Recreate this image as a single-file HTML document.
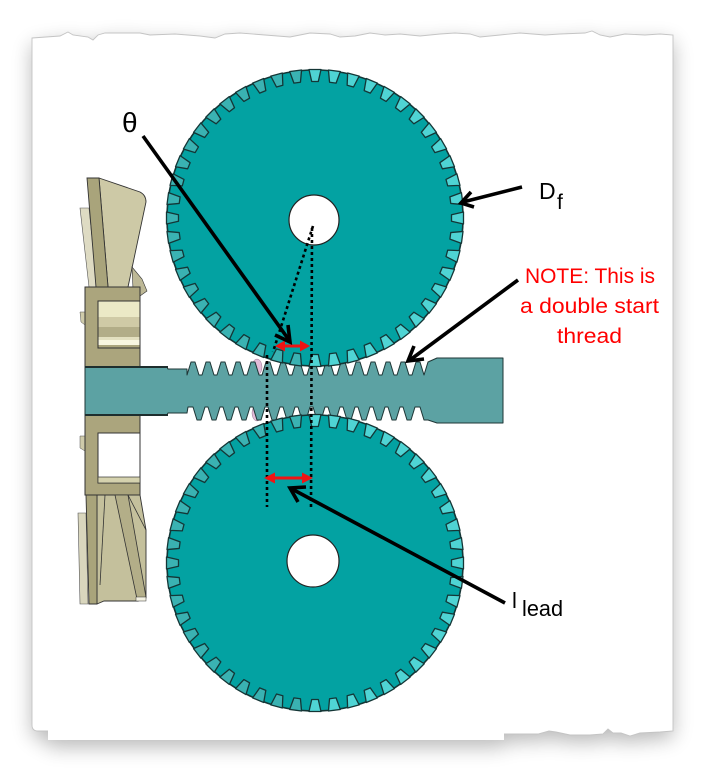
<!DOCTYPE html>
<html><head><meta charset="utf-8">
<style>
html,body{margin:0;padding:0;background:#fff;}
svg{display:block;}
text{font-family:"Liberation Sans",Arial,sans-serif;}
</style></head>
<body>
<svg width="714" height="777" viewBox="0 0 714 777" xmlns="http://www.w3.org/2000/svg">
<defs>
<filter id="sh" x="-15%" y="-15%" width="130%" height="130%">
<feGaussianBlur in="SourceAlpha" stdDeviation="10"/>
<feOffset dx="0" dy="7" result="b"/>
<feComponentTransfer><feFuncA type="linear" slope="0.28"/></feComponentTransfer>
<feMerge><feMergeNode/><feMergeNode in="SourceGraphic"/></feMerge>
</filter>
<polygon id="tt" points="-6,-148.5 6,-148.5 3.3,-136.5 -3.3,-136.5" stroke="#143636" stroke-width="1.3" stroke-linejoin="round"/>
<g id="tr" fill="#4fd4d4">
<use href="#tt" transform="rotate(0)"/><use href="#tt" transform="rotate(7.5)"/><use href="#tt" transform="rotate(15)"/><use href="#tt" transform="rotate(22.5)"/><use href="#tt" transform="rotate(30)"/><use href="#tt" transform="rotate(37.5)"/><use href="#tt" transform="rotate(45)"/><use href="#tt" transform="rotate(52.5)"/><use href="#tt" transform="rotate(60)"/><use href="#tt" transform="rotate(67.5)"/><use href="#tt" transform="rotate(75)"/><use href="#tt" transform="rotate(82.5)"/><use href="#tt" transform="rotate(90)"/><use href="#tt" transform="rotate(97.5)"/><use href="#tt" transform="rotate(105)"/><use href="#tt" transform="rotate(112.5)"/><use href="#tt" transform="rotate(120)"/><use href="#tt" transform="rotate(127.5)"/><use href="#tt" transform="rotate(135)"/><use href="#tt" transform="rotate(142.5)"/><use href="#tt" transform="rotate(150)"/><use href="#tt" transform="rotate(157.5)"/><use href="#tt" transform="rotate(165)"/><use href="#tt" transform="rotate(172.5)"/><use href="#tt" transform="rotate(180)"/>
</g>
<g id="tl" fill="#3ab2b2">
<use href="#tt" transform="rotate(187.5)"/><use href="#tt" transform="rotate(195)"/><use href="#tt" transform="rotate(202.5)"/><use href="#tt" transform="rotate(210)"/><use href="#tt" transform="rotate(217.5)"/><use href="#tt" transform="rotate(225)"/><use href="#tt" transform="rotate(232.5)"/><use href="#tt" transform="rotate(240)"/><use href="#tt" transform="rotate(247.5)"/><use href="#tt" transform="rotate(255)"/><use href="#tt" transform="rotate(262.5)"/><use href="#tt" transform="rotate(270)"/><use href="#tt" transform="rotate(277.5)"/><use href="#tt" transform="rotate(285)"/><use href="#tt" transform="rotate(292.5)"/><use href="#tt" transform="rotate(300)"/><use href="#tt" transform="rotate(307.5)"/><use href="#tt" transform="rotate(315)"/><use href="#tt" transform="rotate(322.5)"/><use href="#tt" transform="rotate(330)"/><use href="#tt" transform="rotate(337.5)"/><use href="#tt" transform="rotate(345)"/><use href="#tt" transform="rotate(352.5)"/>
</g>
</defs>

<!-- paper with shadow -->
<g filter="url(#sh)">
<path d="M32,38 L60,36 L68,32 L73,35 L88,37 L93,40 L98,35 L105,33 L140,33 L150,35 L175,34 L200,36 L215,38 L225,34 L240,33 L265,35 L290,37 L310,33 L330,34 L340,37 L355,36 L370,33 L385,35 L400,34 L420,36 L440,34 L455,33 L470,34 L480,37 L500,35 L520,33 L545,35 L560,34 L585,33 L592,31 L600,35 L610,37 L625,34 L645,35 L660,34 L673,35 L673,731 L660,732 L640,733 L630,736 L621,733 L613,733 L608,729 L603,734 L590,735 L570,735 L556,732 L549,731 L538,734 L520,734 L504,734 L504,740 L48,740 L48,731 L38,731 Q32,731 32,725 Z" fill="#fff"/>
</g>
<path d="M32,38 L60,36 L68,32 L73,35 L88,37 L93,40 L98,35 L105,33 L140,33 L150,35 L175,34 L200,36 L215,38 L225,34 L240,33 L265,35 L290,37 L310,33 L330,34 L340,37 L355,36 L370,33 L385,35 L400,34 L420,36 L440,34 L455,33 L470,34 L480,37 L500,35 L520,33 L545,35 L560,34 L585,33 L592,31 L600,35 L610,37 L625,34 L645,35 L660,34 L673,35 L673,731 L660,732 L640,733 L630,736 L621,733 L613,733 L608,729 L603,734 L590,735 L570,735 L556,732 L549,731 L538,734 L520,734 L504,734 L48,731 L38,731 Q32,731 32,725 Z" fill="#fff" stroke="#c4c4c4" stroke-width="0.9"/>
<rect x="48" y="700" width="456" height="40" fill="#fff"/>

<!-- left assembly: upper blades -->
<polygon points="80,208 89,208 97,287 89,287" fill="#dedbc3" stroke="#555" stroke-width="0.6"/>
<path d="M99,178 L140,192 Q146,195 146,202 L128,287 L108,287 Z" fill="#cdc9a6" stroke="#333" stroke-width="0.9"/>
<polygon points="87,178 99,178 108,287 96,287" fill="#a9a47b" stroke="#333" stroke-width="0.9"/>
<polygon points="132,267 142,279 147,291 140,296 133,289" fill="#bdb896" stroke="#333" stroke-width="0.6"/>
<polygon points="80,312 85,312 85,325 81,322" fill="#cfcbaa" stroke="#555" stroke-width="0.5"/>
<!-- upper block -->
<rect x="85" y="287" width="55" height="80" fill="#aba57d" stroke="#333" stroke-width="1"/>
<rect x="98" y="301" width="42" height="16" fill="#ebe9c6"/>
<rect x="98" y="317" width="42" height="10" fill="#cfcaa6"/>
<rect x="98" y="327" width="42" height="10" fill="#b2ad88"/>
<rect x="98" y="337" width="42" height="3" fill="#e3e0c0"/>
<rect x="98" y="340" width="42" height="5" fill="#f8f6e0"/>
<rect x="98" y="301" width="42" height="47" fill="none" stroke="#333" stroke-width="1"/>
<!-- lower block -->
<polygon points="80,436 85,436 85,451 80,448" fill="#cfcbaa" stroke="#555" stroke-width="0.5"/>
<rect x="85" y="415" width="55" height="80" fill="#aba57d" stroke="#333" stroke-width="1"/>
<rect x="98" y="433" width="42" height="50" fill="#fff" stroke="#333" stroke-width="1"/>
<rect x="98" y="477" width="42" height="6" fill="#d5d2ae" stroke="#333" stroke-width="0.7"/>
<!-- lower blades -->
<polygon points="78,513 86,513 88,604 80,604" fill="#d9d6bd" stroke="#555" stroke-width="0.6"/>
<polygon points="97,495 140,495 146,530 146,598 138,601 104,601 97,604" fill="#c4c09c" stroke="#333" stroke-width="0.9"/>
<polygon points="115,495 128,495 146,597 137,599" fill="#b3ae88" stroke="#333" stroke-width="0.8"/>
<line x1="105" y1="495" x2="100" y2="585" stroke="#333" stroke-width="0.8"/>
<line x1="128" y1="495" x2="146" y2="530" stroke="#333" stroke-width="0.8"/>
<polygon points="86,495 97,495 97,604 89,604" fill="#a9a47b" stroke="#333" stroke-width="0.9"/>
<rect x="136" y="597" width="10" height="4" fill="#f4f2e2" stroke="#333" stroke-width="0.5"/>

<!-- pink bits -->
<ellipse cx="257" cy="367" rx="5" ry="8" fill="#e3bcd9" stroke="#9a7a92" stroke-width="0.5"/>
<ellipse cx="257" cy="413" rx="5" ry="8" fill="#e3bcd9" stroke="#9a7a92" stroke-width="0.5"/>

<!-- shaft with thread -->
<path fill="#5ca2a3" stroke="#1e3535" stroke-width="1" stroke-linejoin="round" d="
M85,367 L167,367 L168,369 L187,369 L187,375
L191,362 L195,362 L199,375 L202,375
L206,362 L210,362 L214,375 L217,375
L221,362 L225,362 L229,375 L232,375
L236,362 L240,362 L244,375 L247,375
L251,362 L255,362 L259,375 L262,375
L266,362 L270,362 L274,375 L277,375
L281,362 L285,362 L289,375 L292,375
L296,362 L300,362 L304,375 L307,375
L311,362 L315,362 L319,375 L322,375
L326,362 L330,362 L334,375 L337,375
L341,362 L345,362 L349,375 L352,375
L356,362 L360,362 L364,375 L367,375
L371,362 L375,362 L379,375 L382,375
L386,362 L390,362 L394,375 L397,375
L401,362 L405,362 L409,375 L412,375
L416,362 L420,362 L424,375
L428,362 L437,358 L503,358 L503,423 L437,423 L428,420 L424,420 L420,407
L415,407 L411,420 L407,420 L403,407
L400,407 L396,420 L392,420 L388,407
L385,407 L381,420 L377,420 L373,407
L370,407 L366,420 L362,420 L358,407
L355,407 L351,420 L347,420 L343,407
L340,407 L336,420 L332,420 L328,407
L325,407 L321,420 L317,420 L313,407
L310,407 L306,420 L302,420 L298,407
L295,407 L291,420 L287,420 L283,407
L280,407 L276,420 L272,420 L268,407
L265,407 L261,420 L257,420 L253,407
L250,407 L246,420 L242,420 L238,407
L235,407 L231,420 L227,420 L223,407
L220,407 L216,420 L212,420 L208,407
L205,407 L201,420 L197,420 L193,407
L188,407 L187,413 L168,413 L167,415 L85,415 Z"/>
<line x1="85" y1="367" x2="168" y2="367" stroke="#1e2e2e" stroke-width="2"/>
<line x1="85" y1="415" x2="168" y2="415" stroke="#1e2e2e" stroke-width="2"/>

<!-- top gear -->
<g transform="translate(315,218)">
<circle r="148" fill="#03a2a2" stroke="#143636" stroke-width="1.6"/>
<use href="#tr"/><use href="#tl"/>
<circle cx="-1" cy="2" r="25" fill="#fff" stroke="#222" stroke-width="1.2"/>
</g>
<!-- bottom gear -->
<g transform="translate(315,563)">
<circle r="148" fill="#03a2a2" stroke="#143636" stroke-width="1.6"/>
<use href="#tr"/><use href="#tl"/>
<circle cx="-2" cy="-2" r="26" fill="#fff" stroke="#222" stroke-width="1.2"/>
</g>

<!-- dotted construction lines -->
<g stroke="#000" stroke-width="2.6" stroke-dasharray="3 3" fill="none">
<line x1="313" y1="226" x2="273" y2="352"/>
<line x1="312" y1="228" x2="311" y2="507"/>
<line x1="267" y1="355" x2="267" y2="507"/>
</g>

<!-- red double arrows -->
<g fill="#f01414" stroke="none">
<rect x="283" y="344.5" width="19" height="3"/>
<polygon points="275,346 285,340.5 285,351.5"/>
<polygon points="310,346 300,340.5 300,351.5"/>
<rect x="272" y="476.5" width="32" height="3"/>
<polygon points="264,478 275,472.5 275,483.5"/>
<polygon points="313,478 302,472.5 302,483.5"/>
</g>

<!-- black pointer arrows -->
<g stroke="#000" stroke-width="3.6" fill="none" stroke-linecap="butt" stroke-linejoin="miter">
<line x1="143" y1="136" x2="289" y2="340"/>
<polyline points="288,325 290,342 275,335"/>
<line x1="522" y1="187" x2="463" y2="202"/>
<polyline points="471,192 461,203 474,207"/>
<line x1="518" y1="280" x2="410" y2="360"/>
<polyline points="414,346 408,361 424,359"/>
<line x1="505" y1="603" x2="292" y2="489"/>
<polyline points="298,502 290,488 306,487"/>
</g>

<!-- labels -->
<text x="122" y="132" font-size="28" fill="#000">θ</text>
<text x="539" y="199" font-size="23" fill="#000">D</text>
<text x="557" y="209" font-size="21" fill="#000">f</text>
<text x="512" y="608" font-size="22" fill="#000">l</text>
<text x="522" y="616" font-size="22" fill="#000" textLength="41" lengthAdjust="spacingAndGlyphs">lead</text>
<g fill="#ff0000" font-size="21">
<text x="525" y="283" textLength="130" lengthAdjust="spacingAndGlyphs">NOTE: This is</text>
<text x="520" y="313" textLength="139" lengthAdjust="spacingAndGlyphs">a double start</text>
<text x="557" y="343" textLength="65" lengthAdjust="spacingAndGlyphs">thread</text>
</g>
</svg>
</body></html>
